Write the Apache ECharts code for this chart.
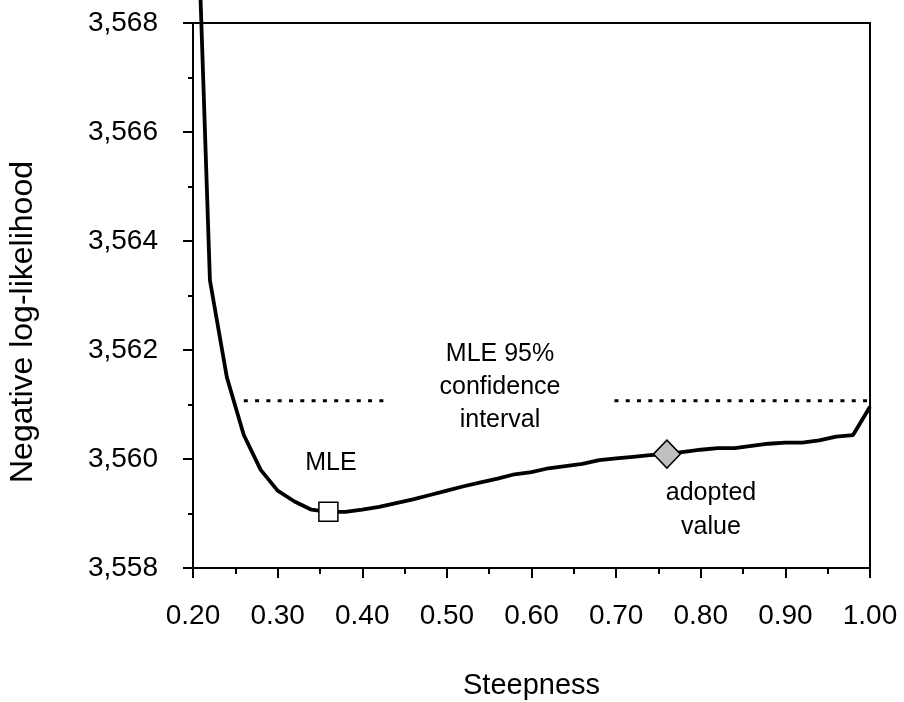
<!DOCTYPE html>
<html>
<head>
<meta charset="utf-8">
<script src="https://cdn.jsdelivr.net/npm/echarts@6/dist/echarts.min.js"></script>
<style>
html,body{margin:0;padding:0;background:#fff;}
#chart{width:904px;height:702px;}
</style>
</head>
<body>
<div id="chart"></div>
<script>
// Data
var steepness = [0.20,0.22,0.24,0.26,0.28,0.30,0.32,0.34,0.36,0.38,0.40,0.42,0.44,0.46,0.48,0.50,0.52,0.54,0.56,0.58,0.60,0.62,0.64,0.66,0.68,0.70,0.72,0.74,0.76,0.78,0.80,0.82,0.84,0.86,0.88,0.90,0.92,0.94,0.96,0.98,1.00];
var negLogLik = [3572.6,3563.28,3561.5,3560.44,3559.80,3559.42,3559.22,3559.07,3559.03,3559.03,3559.07,3559.12,3559.19,3559.26,3559.34,3559.42,3559.50,3559.57,3559.64,3559.72,3559.76,3559.83,3559.87,3559.91,3559.98,3560.01,3560.04,3560.07,3560.09,3560.13,3560.17,3560.20,3560.20,3560.24,3560.28,3560.30,3560.30,3560.34,3560.41,3560.44,3560.96];
var mlePoint = [0.36, 3559.03];
var adoptedPoint = [0.76, 3560.09];
var ciLevel = 3561.07;
var ciLeftSegment = [0.26, 0.433];
var ciRightSegment = [0.698, 1.00];
var xTicks = {min: 0.2, max: 1.0, interval: 0.1};
var yTicks = {min: 3558, max: 3568, interval: 2};
var xTitle = 'Steepness';
var yTitle = 'Negative log-likelihood';

var FONT = "'Liberation Sans', Arial, sans-serif";
var curve = steepness.map(function (x, i) { return [x, negLogLik[i]]; });

var chart = echarts.init(document.getElementById('chart'));
chart.setOption({
  animation: false,
  backgroundColor: '#fff',
  grid: {left: 193, right: 34, top: 23, bottom: 134, containLabel: false, outerBoundsMode: 'none',
         show: true, borderColor: '#000', borderWidth: 2, backgroundColor: 'transparent'},
  xAxis: {
    type: 'value', min: xTicks.min, max: xTicks.max, interval: xTicks.interval,
    name: xTitle, nameLocation: 'middle', nameGap: 103,
    nameTextStyle: {fontFamily: FONT, fontSize: 29, color: '#000'},
    axisLine: {show: true, lineStyle: {color: '#000', width: 2}},
    axisTick: {show: true, length: 10, lineStyle: {color: '#000', width: 2}},
    minorTick: {show: true, splitNumber: 2, length: 6, lineStyle: {color: '#000', width: 2}},
    splitLine: {show: false}, minorSplitLine: {show: false},
    axisLabel: {fontFamily: FONT, fontSize: 28, color: '#000', margin: 34,
      formatter: function (v) { return v.toFixed(2); }}
  },
  yAxis: {
    type: 'value', min: yTicks.min, max: yTicks.max, interval: yTicks.interval,
    axisLine: {show: true, lineStyle: {color: '#000', width: 2}},
    axisTick: {show: true, length: 10, lineStyle: {color: '#000', width: 2}},
    minorTick: {show: true, splitNumber: 2, length: 5, lineStyle: {color: '#000', width: 2}},
    splitLine: {show: false}, minorSplitLine: {show: false},
    axisLabel: {fontFamily: FONT, fontSize: 28, color: '#000', margin: 35,
      formatter: function (v) { return Math.round(v).toLocaleString('en-US'); }}
  },
  series: [
    {type: 'line', data: curve, showSymbol: false, symbol: 'none', clip: false, z: 3,
     lineStyle: {color: '#000', width: 3.8}},
    {type: 'line', data: [[ciLeftSegment[0], ciLevel], [ciLeftSegment[1], ciLevel]], symbol: 'none', z: 2,
     lineStyle: {color: '#000', width: 3, type: [4, 7.3], cap: 'butt'}},
    {type: 'line', data: [[ciRightSegment[0], ciLevel], [ciRightSegment[1], ciLevel]], symbol: 'none', z: 2,
     lineStyle: {color: '#000', width: 3, type: [4, 7.3], cap: 'butt'}},
    {type: 'scatter', data: [mlePoint], symbol: 'rect', symbolSize: 19, z: 5,
     itemStyle: {color: '#fff', borderColor: '#000', borderWidth: 1.5, opacity: 1}},
    {type: 'scatter', data: [adoptedPoint], symbol: 'diamond', symbolSize: [27, 28], z: 5,
     itemStyle: {color: '#c0c0c0', borderColor: '#000', borderWidth: 1.5, opacity: 1}}
  ],
  graphic: [
    {type: 'text', x: 23, y: 322, rotation: Math.PI / 2, silent: true, z: 10, style: {text: yTitle, fill: '#000', font: '32px ' + FONT, align: 'center', verticalAlign: 'middle'}},
    {type: 'text', x: 500, y: 387, silent: true, z: 10, style: {text: 'MLE 95%\nconfidence\ninterval', fill: '#000', font: '25px ' + FONT, align: 'center', verticalAlign: 'middle', lineHeight: 33}},
    {type: 'text', x: 331, y: 463, silent: true, z: 10, style: {text: 'MLE', fill: '#000', font: '25px ' + FONT, align: 'center', verticalAlign: 'middle'}},
    {type: 'text', x: 711, y: 510, silent: true, z: 10, style: {text: 'adopted\nvalue', fill: '#000', font: '25px ' + FONT, align: 'center', verticalAlign: 'middle', lineHeight: 34}}
  ]
});
</script>
</body>
</html>
